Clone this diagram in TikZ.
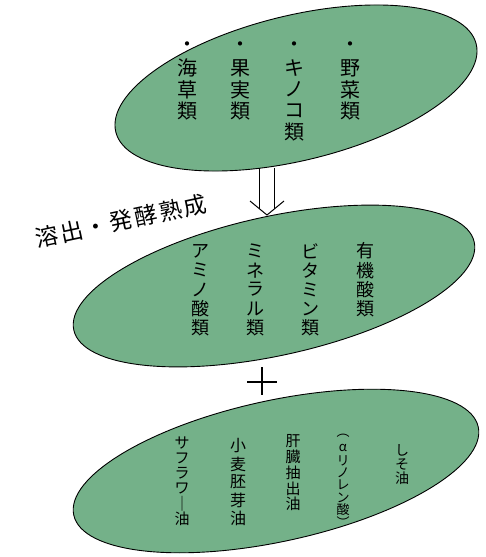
\documentclass[tikz,border=0pt]{standalone}
\usepackage{fontspec}
\newfontfamily\cjk{Noto Sans CJK JP}
\newfontfamily\cjkwide[LetterSpace=10]{Noto Sans CJK JP}
\usetikzlibrary{shapes.geometric}
\definecolor{blobgreen}{RGB}{116,177,137}
\tikzset{
  blob/.style={ellipse, draw=black, line width=0.9pt, fill=blobgreen, inner sep=0pt},
  vch/.style={inner sep=0pt, text=black},
  thinline/.style={line width=1pt, draw=black}
}
\newcommand\vcol[6]{%
  \foreach \ch [count=\i] in {#6} {%
    \node[vch, font=\cjk\fontsize{#5}{#5}\selectfont] (#1\i) at (#2, {#3+(\i-1)*#4}) {\ch};}}
\begin{document}
\begin{tikzpicture}[x=1pt, y=-1pt]
\useasboundingbox (0,0) rectangle (485,557);
% ellipses
\node[blob, minimum width=371pt, minimum height=145pt, rotate=13.7] (top) at (296,88) {};
\node[blob, minimum width=410pt, minimum height=139pt, rotate=12.4] (mid) at (274,286) {};
\node[blob, minimum width=414pt, minimum height=141pt, rotate=12.3] (bot) at (276,471) {};
% top texts
\vcol{ta}{187}{47}{21.3}{20}{・,海,草,類}
\vcol{tb}{240}{47}{21.3}{20}{・,果,実,類}
\vcol{tc}{294}{47}{21.3}{20}{・,キ,ノ,コ,類}
\vcol{td}{350}{47}{21.3}{20}{・,野,菜,類}
% arrow
\coordinate (al1) at (259.5,168);
\coordinate (al2) at (259.5,209);
\coordinate (ar1) at (274.5,168);
\coordinate (ar2) at (274.5,209);
\coordinate (vl) at (250,201);
\coordinate (vt) at (267,215);
\coordinate (vr) at (284,201);
\draw[thinline] (al1) -- (al2);
\draw[thinline] (ar1) -- (ar2);
\draw[thinline] (vl) -- (vt) -- (vr);
% label
\node[vch, font=\cjkwide\fontsize{23}{23}\selectfont, rotate=12] (lab) at (121,221) {溶出・発酵熟成};
% middle texts
\vcol{ma}{200}{251}{19.3}{18}{ア,ミ,ノ,酸,類}
\vcol{mb}{255}{251}{19.3}{18}{ミ,ネ,ラ,ル,類}
\vcol{mc}{310}{251}{19.3}{18}{ビ,タ,ミ,ン,類}
\vcol{md}{365}{251}{19.3}{18}{有,機,酸,類}
% plus
\coordinate (pt) at (262,367);
\coordinate (pb) at (262,395);
\coordinate (pl) at (247,382);
\coordinate (pr) at (277,382);
\draw[thinline, line width=1.4pt] (pt) -- (pb);
\draw[thinline, line width=1.4pt] (pl) -- (pr);
% bottom texts
\vcol{ba}{182}{443}{15.2}{15}{サ,フ,ラ,ワ,｜,油}
\vcol{bb}{238}{446}{18}{16}{小,麦,胚,芽,油}
\vcol{bc}{293}{441}{15.8}{15}{肝,臓,抽,出,油}
\vcol{bd}{343}{436}{12.3}{13}{︵,α,リ,ノ,レ,ン,酸,︶}
\vcol{be}{402}{450}{14}{14}{し,そ,油}
\end{tikzpicture}
\end{document}
